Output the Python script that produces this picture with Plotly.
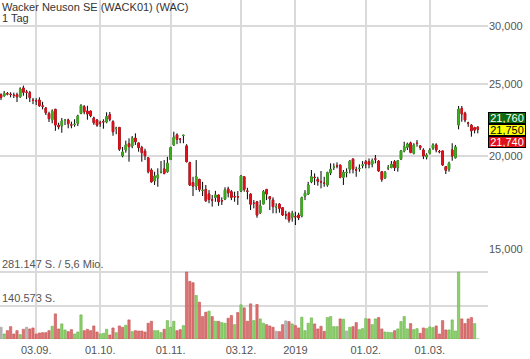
import math
import plotly.graph_objects as go

# ---------------- data ----------------
title_text = "Wacker Neuson SE (WACK01) (WAC)"
period_text = "1 Tag"

opens = [24210, 24140, 24290, 24250, 24180, 24210, 24060, 24730, 24410, 24370,
         23800, 23770, 23820, 23380, 23230, 22830, 22410, 23140, 22020, 21990,
         22360, 22390, 22050, 22080, 22160, 22860, 23330, 23020, 23020, 22530,
         22390, 22200, 22270, 22250, 22760, 22270, 21810, 21880, 20040, 20400,
         20800, 20660, 21170, 20850, 20550, 20320, 19910, 19170, 18540, 18710,
         19060, 19230, 19070, 19810, 20720, 21370, 21090, 21340, 20660, 19610,
         18430, 18240, 18620, 17990, 18050, 17790, 17470, 17610, 17740, 17430,
         17520, 18070, 17920, 17650, 17640, 17960, 18770, 17960, 17790, 17290,
         17370, 16790, 17250, 18050, 17650, 17460, 17100, 17250, 17050, 16680,
         16760, 16550, 16590, 16670, 16620, 17680, 17790, 18480, 18740, 18620,
         18490, 18400, 18300, 19010, 19330, 19430, 19470, 18740, 19020, 19210,
         19830, 19180, 19260, 19460, 19670, 19670, 19530, 19840, 19710, 19070,
         18710, 19300, 19330, 19670, 19310, 19830, 20340, 20570, 20850, 20190,
         20830, 20660, 20400, 19960, 20190, 20510, 20720, 20300, 20340, 19370,
         19230, 20400, 19910, 22040, 23210, 22860, 22170, 22040, 21860, 21900]
highs = [24320, 24500, 24420, 24400, 24370, 24370, 24780, 24910, 24580, 24500,
         23970, 23950, 24020, 23690, 23310, 22970, 23140, 23180, 22200, 22530,
         22440, 22480, 22270, 22440, 22760, 23520, 23450, 23400, 23030, 22620,
         22440, 22340, 22440, 22930, 22950, 22370, 21920, 21900, 20590, 21000,
         21150, 21300, 21480, 20860, 20660, 20480, 19920, 19270, 19070, 19270,
         19710, 19770, 19970, 20610, 21590, 21480, 21170, 21370, 20770, 19670,
         18770, 19770, 18650, 18480, 18300, 18010, 17740, 17970, 17750, 17610,
         18170, 18200, 18010, 17920, 17960, 18870, 18780, 18140, 17830, 17460,
         17410, 17460, 18010, 18060, 17650, 17610, 17290, 17290, 17060, 16890,
         16840, 16890, 16840, 16790, 17650, 18010, 18480, 19170, 18970, 18770,
         19110, 18770, 19070, 19570, 19570, 19630, 19480, 19170, 19270, 19770,
         19870, 19370, 19510, 19710, 19770, 19870, 19870, 20080, 19770, 19110,
         19110, 19470, 19710, 19770, 19770, 20400, 20930, 20870, 20930, 20830,
         21040, 20660, 20510, 20190, 20510, 20830, 20830, 20400, 20340, 19410,
         19670, 20830, 20720, 23380, 23380, 22970, 22270, 22090, 21920, 21950]
lows = [23820, 24060, 24170, 24020, 23970, 23670, 23990, 24140, 23890, 23670,
        23520, 23450, 23330, 23140, 22740, 22250, 22160, 21650, 21750, 21520,
        22040, 21820, 21820, 21920, 21970, 22790, 22790, 22410, 22580, 22060,
        21920, 21920, 21790, 22160, 22300, 21320, 21420, 20340, 19940, 20230,
        19670, 20510, 20720, 20290, 19670, 19770, 18970, 18430, 18300, 18200,
        18970, 18910, 19010, 19770, 20660, 20770, 20830, 20830, 19630, 18240,
        17680, 18010, 17920, 17680, 17370, 17290, 17110, 17370, 17150, 17200,
        17460, 17610, 17460, 17370, 17200, 17900, 17920, 17500, 16930, 17020,
        16530, 16720, 17240, 17460, 16930, 16760, 16760, 16790, 16620, 16450,
        16280, 16330, 16160, 16410, 16550, 17460, 17740, 18400, 18300, 18260,
        18110, 18200, 18200, 18870, 19170, 19270, 18680, 18300, 18740, 18970,
        18970, 18770, 19070, 19270, 19270, 19270, 19330, 19570, 19070, 18480,
        18640, 19170, 19270, 19110, 19070, 19770, 20250, 20400, 20190, 20120,
        20610, 20400, 19830, 19810, 20120, 20400, 20250, 20190, 19410, 18930,
        19070, 19730, 19870, 21750, 22270, 22230, 21920, 21260, 21480, 21480]
closes = [24020, 24320, 24270, 24230, 24160, 24060, 24650, 24400, 24400, 23990,
          23790, 23760, 23400, 23370, 22900, 22480, 23000, 22040, 21920, 22320,
          22370, 22130, 22040, 22090, 22670, 23400, 22970, 22810, 22690, 22200,
          22040, 22190, 22260, 22620, 22440, 21590, 21820, 20450, 20270, 20720,
          20610, 21170, 20930, 20550, 20230, 20040, 19070, 18480, 18810, 18870,
          19070, 18970, 19570, 20550, 21220, 21090, 21080, 21350, 19670, 18300,
          18240, 18770, 18050, 18000, 17420, 17500, 17460, 17740, 17370, 17420,
          18010, 17860, 17610, 17640, 17630, 18810, 18050, 17950, 17240, 17280,
          16670, 17150, 17920, 17790, 17530, 17110, 17110, 17020, 16670, 16670,
          16410, 16760, 16580, 16530, 17590, 17830, 18300, 18770, 18730, 18510,
          18480, 18390, 19010, 19210, 19340, 19420, 18740, 19030, 19030, 19710,
          19230, 19170, 19270, 19470, 19530, 19510, 19730, 19830, 19110, 18620,
          19030, 19310, 19510, 19310, 19730, 20340, 20610, 20780, 20250, 20720,
          20820, 20550, 20020, 20080, 20400, 20720, 20400, 20290, 19470, 19150,
          19570, 20020, 20590, 23160, 22810, 22390, 22160, 21650, 21700, 21750]
volumes = [49200, 21100, 35100, 52000, 21100, 35100, 18300, 40800, 49200, 42200,
           46400, 21100, 25300, 26700, 26700, 35100, 53400, 105400, 42200, 63300,
           38000, 30900, 39400, 21100, 29500, 101200, 35100, 40800, 35100, 54800,
           29500, 21100, 23900, 40800, 16900, 46400, 26700, 54800, 49200, 57600,
           80100, 30900, 35100, 33700, 33700, 29500, 66100, 74500, 35100, 35100,
           26700, 40800, 77300, 49200, 74500, 35100, 39400, 56200, 281147, 241800,
           236200, 182700, 154600, 94200, 112500, 116700, 94200, 74500, 74500, 68900,
           66100, 87200, 98400, 60400, 111000, 143400, 130700, 74500, 147600, 77300,
           144800, 84300, 66100, 60400, 54800, 49200, 32300, 30900, 60400, 75900,
           73100, 63300, 56200, 46400, 91400, 35100, 66100, 88600, 63300, 42200,
           53400, 32300, 90000, 94200, 52000, 52000, 84300, 82900, 33700, 49200,
           52000, 68900, 39400, 43600, 85700, 84300, 60400, 84300, 90000, 42200,
           29500, 28100, 26700, 35100, 42200, 73100, 94200, 42200, 64700, 39400,
           43600, 23900, 46400, 43600, 50600, 47800, 54800, 21100, 77300, 38000,
           38000, 80100, 33700, 281100, 84300, 64700, 84300, 90000, 64700, 0]

tick_index = [11, 31, 53, 75, 92, 114, 134]
tick_labels = ["03.09.", "01.10.", "01.11.", "03.12.", "2019", "01.02.", "01.03."]
price_ticks = [15000, 20000, 25000, 30000]
price_tick_labels = ["15,000", "20,000", "25,000", "30,000"]
vol_levels = [140573, 281147]
vol_level_labels = ["140.573 S.", "281.147 S. / 5,6 Mio."]
quote_values = [21760, 21750, 21740]
quote_labels = ["21,760", "21,750", "21,740"]

# ---------------- styling / geometry ----------------
W, H = 530, 359
ML, MR, MT, MB = 0, 42, 0, 20
PW, PH = W - ML - MR, H - MT - MB
FONT = "Liberation Sans, Arial, sans-serif"
GREEN = "#3db01c"
RED = "#e2101b"
VGREEN, VGREEN_L = "#8fd06c", "#64b246"
VRED, VRED_L = "#dc7272", "#c45454"
VGRAY, VGRAY_L = "#b8b8b8", "#9a9a9a"
GRID = "#dadada"
TXT = "#555555"

n = len(closes)
xs = list(range(n))
step_px = 3.2
first_px = 1.0
x_range = [-first_px / step_px, (PW - first_px) / step_px]

px_per_decade = 741.9
top_ref_val, top_ref_px = 30000, 25.7
y_hi = math.log10(top_ref_val) + top_ref_px / px_per_decade
y_lo = math.log10(top_ref_val) - (PH - top_ref_px) / px_per_decade

vol_dom = 0.3
vol_top_px = 67.0
vol_max = max(vol_levels) * (vol_dom * PH) / vol_top_px

body_hi = [max(o, c) for o, c in zip(opens, closes)]
body_lo = [min(o, c) for o, c in zip(opens, closes)]

vcol, vline = [], []
for i, c in enumerate(closes):
    if i == 0 or c == closes[i - 1]:
        vcol.append(VGRAY); vline.append(VGRAY_L)
    elif c > closes[i - 1]:
        vcol.append(VGREEN); vline.append(VGREEN_L)
    else:
        vcol.append(VRED); vline.append(VRED_L)

fig = go.Figure()

fig.add_trace(go.Bar(
    x=xs, y=volumes, yaxis="y2", width=0.72,
    marker=dict(color=vcol, line=dict(color=vline, width=0.6)),
    hoverinfo="skip", showlegend=False))

# wicks (black)
fig.add_trace(go.Candlestick(
    x=xs, open=opens, high=highs, low=lows, close=closes,
    increasing=dict(line=dict(color="#000000", width=1), fillcolor="#000000"),
    decreasing=dict(line=dict(color="#000000", width=1), fillcolor="#000000"),
    whiskerwidth=0, hoverinfo="skip", showlegend=False))

# coloured bodies
fig.add_trace(go.Candlestick(
    x=xs, open=opens, high=body_hi, low=body_lo, close=closes,
    increasing=dict(line=dict(color=GREEN, width=1), fillcolor=GREEN),
    decreasing=dict(line=dict(color=RED, width=1), fillcolor=RED),
    whiskerwidth=0, hoverinfo="skip", showlegend=False))

annotations = [
    dict(text=title_text, xref="paper", yref="paper", x=0, y=1, xanchor="left",
         yanchor="top", xshift=0, yshift=1.5, showarrow=False,
         font=dict(family=FONT, size=11, color="#333333")),
    dict(text=period_text, xref="paper", yref="paper", x=0, y=1, xanchor="left",
         yanchor="top", xshift=0, yshift=-9.5, showarrow=False,
         font=dict(family=FONT, size=11, color="#333333")),
]
for lvl, lab in zip(vol_levels, vol_level_labels):
    annotations.append(dict(text=lab, xref="paper", yref="y2", x=0, y=lvl,
                            xanchor="left", yanchor="bottom", xshift=0, yshift=0,
                            showarrow=False,
                            font=dict(family=FONT, size=11, color=TXT)))

quote_style = [("#0b6b12", "#ffffff", 11), ("#ffff00", "#000000", -1), ("#e0101c", "#ffffff", -13)]
for val, lab, (bg, fg, ys) in zip(quote_values, quote_labels, quote_style):
    annotations.append(dict(text=lab, xref="paper", yref="y", x=1,
                            y=math.log10(quote_values[1]), xanchor="left",
                            yanchor="middle", yshift=ys, xshift=0,
                            showarrow=False, bgcolor=bg, bordercolor="#000000",
                            borderwidth=1, borderpad=0, width=36, height=10,
                            font=dict(family=FONT, size=11, color=fg)))

fig.update_layout(
    width=W, height=H,
    margin=dict(l=ML, r=MR, t=MT, b=MB),
    paper_bgcolor="#ffffff", plot_bgcolor="#ffffff",
    font=dict(family=FONT, size=11, color=TXT),
    showlegend=False, boxgap=0.35,
    bargap=0.25,
    annotations=annotations,
    xaxis=dict(range=x_range, tickmode="array", tickvals=tick_index,
               ticktext=tick_labels, showgrid=True, gridcolor=GRID, gridwidth=2,
               zeroline=False, showline=False, ticks="", ticklen=0,
               ticklabelstandoff=3,
               rangeslider=dict(visible=False),
               tickfont=dict(family=FONT, size=11, color=TXT)),
    yaxis=dict(type="log", domain=[0, 1], range=[y_lo, y_hi], side="right",
               tickmode="array", tickvals=price_ticks, ticktext=price_tick_labels,
               showgrid=True, gridcolor=GRID, gridwidth=2, zeroline=False,
               showline=False, ticks="", ticklen=0,
               tickfont=dict(family=FONT, size=11, color=TXT)),
    yaxis2=dict(domain=[0, vol_dom], range=[0, vol_max], anchor="x",
                tickmode="array", tickvals=vol_levels, showticklabels=False,
                showgrid=True, gridcolor=GRID, gridwidth=2, zeroline=False,
                showline=False, ticks=""),
)

fig.write_html("out.html", config={"displayModeBar": False},
               post_script="document.body.style.margin='0';document.body.style.padding='0';")
